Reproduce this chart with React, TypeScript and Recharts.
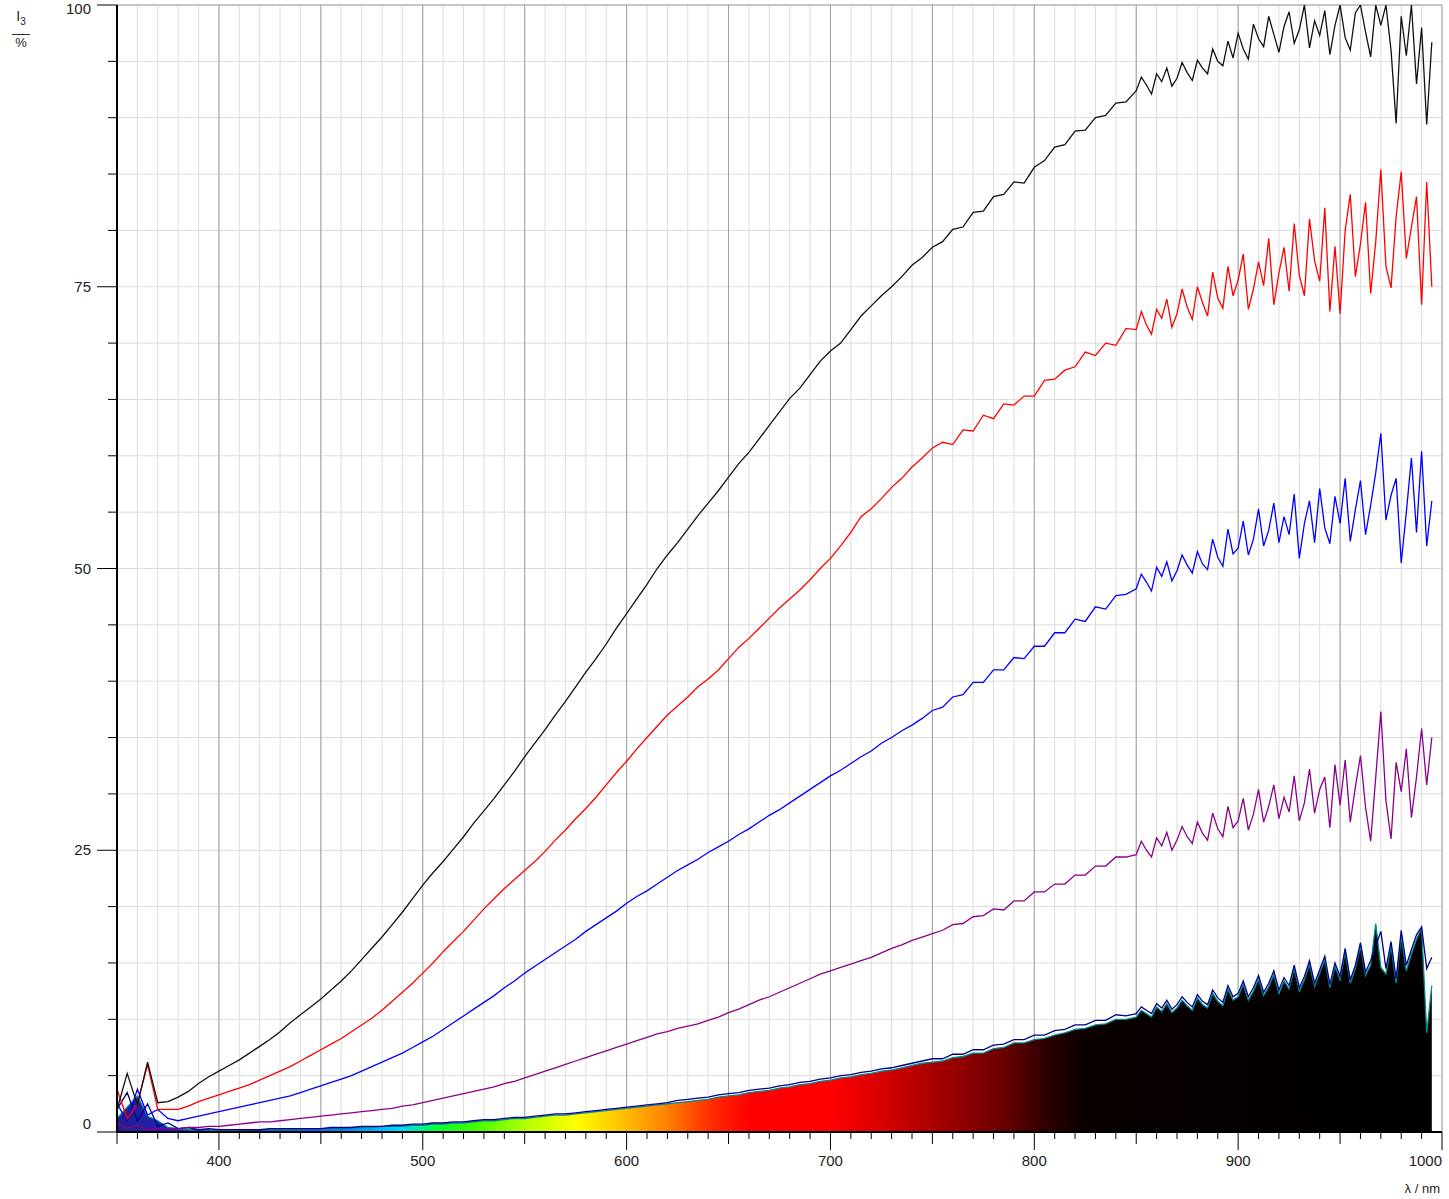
import React from 'react';
import { Area, CartesianGrid, ComposedChart, Line, XAxis, YAxis } from 'recharts';

// sampling grid, nm (finer where the signal gets noisy)
const wavelengths = [
  350, 355, 360, 365, 370, 375, 380, 385, 390, 395,
  400, 405, 410, 415, 420, 425, 430, 435, 440, 445,
  450, 455, 460, 465, 470, 475, 480, 485, 490, 495,
  500, 505, 510, 515, 520, 525, 530, 535, 540, 545,
  550, 555, 560, 565, 570, 575, 580, 585, 590, 595,
  600, 605, 610, 615, 620, 625, 630, 635, 640, 645,
  650, 655, 660, 665, 670, 675, 680, 685, 690, 695,
  700, 705, 710, 715, 720, 725, 730, 735, 740, 745,
  750, 755, 760, 765, 770, 775, 780, 785, 790, 795,
  800, 805, 810, 815, 820, 825, 830, 835, 840, 845,
  850, 852.5, 855, 857.5, 860, 862.5, 865, 867.5, 870, 872.5,
  875, 877.5, 880, 882.5, 885, 887.5, 890, 892.5, 895, 897.5,
  900, 902.5, 905, 907.5, 910, 912.5, 915, 917.5, 920, 922.5,
  925, 927.5, 930, 932.5, 935, 937.5, 940, 942.5, 945, 947.5,
  950, 952.5, 955, 957.5, 960, 962.5, 965, 967.5, 970, 972.5,
  975, 977.5, 980, 982.5, 985, 987.5, 990, 992.5, 995,
];

const seriesBlack = [
  2.0, 5.2, 2.4, 6.2, 2.6, 2.7, 3.1, 3.6, 4.3, 4.9,
  5.4, 5.9, 6.4, 7.0, 7.6, 8.2, 8.9, 9.7, 10.4, 11.1,
  11.8, 12.6, 13.4, 14.3, 15.3, 16.3, 17.3, 18.4, 19.5, 20.7,
  21.9, 23.0, 24.0, 25.1, 26.2, 27.4, 28.5, 29.6, 30.8, 32.0,
  33.3, 34.5, 35.7, 37.0, 38.2, 39.5, 40.8, 42.0, 43.3, 44.7,
  46.0, 47.3, 48.6, 50.0, 51.2, 52.3, 53.5, 54.7, 55.8, 56.9,
  58.1, 59.3, 60.3, 61.5, 62.7, 63.9, 65.1, 66.0, 67.2, 68.4,
  69.3, 70.0, 71.2, 72.4, 73.3, 74.2, 75.0, 75.9, 76.9, 77.6,
  78.5, 79.0, 80.1, 80.3, 81.6, 81.7, 83.0, 83.2, 84.3, 84.2,
  85.6, 86.2, 87.4, 87.6, 88.8, 88.9, 90.0, 90.2, 91.3, 91.4,
  92.4, 93.6, 92.9, 92.1, 93.9, 93.2, 94.4, 92.8, 93.5, 94.9,
  94.0, 93.3, 95.1, 94.4, 93.9, 96.1, 95.0, 94.6, 96.8, 95.3,
  97.5, 96.1, 95.2, 98.3, 97.0, 96.3, 99.0, 97.4, 95.8, 98.1,
  99.4, 96.6, 97.8, 100.0, 96.2, 98.6, 97.3, 99.5, 95.6, 98.2,
  100.0, 97.1, 96.0, 99.3, 100.0, 97.6, 95.4, 100.0, 98.2, 100.0,
  96.0, 89.5, 99.0, 95.5, 100.0, 93.0, 98.0, 89.4, 96.7,
];

const seriesRed = [
  3.8, 1.2, 2.5, 6.0, 2.0, 2.0, 2.0, 2.3, 2.7, 3.0,
  3.3, 3.6, 3.9, 4.2, 4.6, 5.0, 5.4, 5.8, 6.3, 6.8,
  7.3, 7.8, 8.3, 8.9, 9.5, 10.1, 10.8, 11.6, 12.4, 13.2,
  14.1, 15.0, 16.0, 16.9, 17.8, 18.8, 19.8, 20.7, 21.6, 22.4,
  23.2, 24.0, 24.9, 25.9, 26.8, 27.8, 28.7, 29.7, 30.8, 31.9,
  32.9, 34.0, 35.0, 36.0, 37.0, 37.8, 38.6, 39.5, 40.2, 41.0,
  42.0, 43.0, 43.8, 44.7, 45.6, 46.5, 47.3, 48.1, 49.0, 50.0,
  50.9, 52.0, 53.2, 54.6, 55.3, 56.2, 57.2, 58.0, 59.0, 59.8,
  60.7, 61.2, 61.0, 62.3, 62.2, 63.6, 63.3, 64.6, 64.5, 65.3,
  65.3, 66.7, 66.8, 67.6, 67.9, 69.2, 68.9, 70.0, 69.8, 71.3,
  71.2, 72.8, 71.6, 70.8, 73.0, 72.2, 73.9, 71.4, 72.6, 74.8,
  73.2, 72.1, 75.0, 73.6, 72.4, 76.3, 74.0, 73.1, 76.8, 74.2,
  75.6, 77.9, 73.0, 74.8, 77.2, 75.1, 79.3, 73.4, 76.2, 78.5,
  74.6, 80.6, 76.0, 74.2, 81.0, 77.3, 75.5, 82.0, 72.8, 78.6,
  72.6, 80.0, 83.2, 75.9, 78.8, 82.5, 74.4, 79.0, 85.4, 76.8,
  74.9, 81.2, 85.2, 77.5, 80.3, 83.0, 73.4, 84.3, 75.0,
];

const seriesBlue = [
  2.5, 1.0, 3.8, 1.5, 2.0, 1.2, 1.0, 1.2, 1.4, 1.6,
  1.8, 2.0, 2.2, 2.4, 2.6, 2.8, 3.0, 3.2, 3.5, 3.8,
  4.1, 4.4, 4.7, 5.0, 5.4, 5.8, 6.2, 6.6, 7.0, 7.5,
  8.0, 8.5, 9.1, 9.7, 10.3, 10.9, 11.5, 12.1, 12.8, 13.4,
  14.1, 14.7, 15.3, 15.9, 16.5, 17.1, 17.8, 18.4, 19.0, 19.6,
  20.3, 20.9, 21.4, 22.0, 22.6, 23.2, 23.7, 24.2, 24.8, 25.3,
  25.8, 26.4, 26.9, 27.5, 28.1, 28.6, 29.2, 29.8, 30.4, 31.0,
  31.6, 32.1, 32.7, 33.3, 33.8, 34.5, 35.0, 35.6, 36.1, 36.7,
  37.4, 37.7, 38.6, 38.8, 39.9, 39.9, 41.0, 41.0, 42.1, 42.0,
  43.1, 43.1, 44.3, 44.3, 45.5, 45.3, 46.6, 46.4, 47.6, 47.7,
  48.2, 49.5, 48.8, 48.0, 50.1, 49.3, 50.6, 48.9, 49.8, 51.2,
  50.3, 49.6, 51.5, 50.4, 49.9, 52.6, 51.0, 50.2, 53.5, 51.3,
  51.8, 54.2, 51.2, 52.6, 55.3, 52.0, 53.4, 55.8, 52.3, 54.6,
  53.0, 56.6, 50.9, 54.0, 56.0, 52.3, 57.1, 53.6, 52.2, 56.4,
  54.0, 58.0, 52.4, 55.2, 57.8, 53.0, 55.6, 58.5, 62.0, 54.3,
  56.5, 58.0, 50.5, 55.0, 59.8, 53.2, 60.4, 52.0, 56.0,
];

const seriesPurple = [
  0.8, 0.3, 0.6, 0.2, 0.3, 0.3, 0.3, 0.4, 0.4, 0.5,
  0.5, 0.6, 0.7, 0.8, 0.9, 0.9, 1.0, 1.1, 1.2, 1.3,
  1.4, 1.5, 1.6, 1.7, 1.8, 1.9, 2.0, 2.1, 2.3, 2.4,
  2.6, 2.8, 3.0, 3.2, 3.4, 3.6, 3.8, 4.0, 4.3, 4.5,
  4.8, 5.1, 5.4, 5.7, 6.0, 6.3, 6.6, 6.9, 7.2, 7.5,
  7.8, 8.1, 8.4, 8.7, 8.9, 9.2, 9.4, 9.6, 9.9, 10.2,
  10.6, 10.9, 11.3, 11.7, 12.0, 12.4, 12.8, 13.2, 13.6, 14.0,
  14.3, 14.6, 14.9, 15.2, 15.5, 15.9, 16.3, 16.6, 17.0, 17.3,
  17.6, 17.9, 18.4, 18.5, 19.1, 19.2, 19.8, 19.7, 20.5, 20.5,
  21.3, 21.3, 22.0, 22.0, 22.8, 22.8, 23.6, 23.6, 24.4, 24.4,
  24.6, 25.8, 25.0, 24.4, 26.1, 25.4, 26.6, 25.0, 25.9, 27.1,
  26.2, 25.6, 27.5, 26.5, 25.9, 28.3, 26.9, 26.2, 28.9, 27.0,
  27.6, 29.6, 26.8, 28.2, 30.4, 27.5, 28.9, 30.8, 27.8, 29.7,
  28.4, 31.6, 27.6, 29.2, 32.2, 28.3, 30.4, 31.5, 27.0, 32.6,
  29.0, 33.0, 27.5, 30.6, 33.4, 28.8, 25.8, 31.5, 37.3, 29.4,
  26.0, 32.8, 30.2, 34.0, 27.9, 31.5, 35.8, 30.8, 35.0,
];

const seriesNavy = [
  2.0, 3.5, 1.0, 2.5, 0.5, 0.8, 0.3, 0.4, 0.2, 0.3,
  0.2, 0.2, 0.2, 0.2, 0.2, 0.3, 0.3, 0.3, 0.3, 0.3,
  0.3, 0.4, 0.4, 0.4, 0.5, 0.5, 0.5, 0.6, 0.6, 0.7,
  0.7, 0.8, 0.8, 0.9, 0.9, 1.0, 1.1, 1.1, 1.2, 1.3,
  1.3, 1.4, 1.5, 1.6, 1.6, 1.7, 1.8, 1.9, 2.0, 2.1,
  2.2, 2.3, 2.4, 2.5, 2.6, 2.8, 2.9, 3.0, 3.1, 3.3,
  3.4, 3.5, 3.7, 3.8, 3.9, 4.1, 4.2, 4.4, 4.5, 4.7,
  4.8, 5.0, 5.1, 5.3, 5.4, 5.6, 5.7, 5.9, 6.1, 6.3,
  6.5, 6.5, 6.9, 6.9, 7.3, 7.3, 7.7, 7.8, 8.2, 8.2,
  8.6, 8.6, 9.0, 9.1, 9.5, 9.5, 9.9, 9.9, 10.4, 10.3,
  10.5, 11.1, 10.8, 10.5, 11.4, 11.0, 11.7, 10.9, 11.3, 12.0,
  11.5, 11.1, 12.2, 11.6, 11.3, 12.6, 11.9, 11.5, 13.0, 12.0,
  12.3, 13.4, 12.0, 12.8, 13.9, 12.4, 13.2, 14.3, 12.6, 13.7,
  13.0, 14.8, 12.8, 13.8, 15.2, 13.2, 14.4, 15.6, 13.1, 15.0,
  13.8, 16.3, 13.5, 14.8, 16.8, 14.2, 15.2, 16.5, 17.8, 14.5,
  16.9, 13.6, 17.9, 14.8, 16.2, 17.5, 18.2, 14.5, 15.5,
];

const seriesTeal = [
  1.2, 2.2, 3.2, 1.4, 1.0, 0.4, 0.3, 0.2, 0.2, 0.2,
  0.1, 0.1, 0.1, 0.2, 0.2, 0.2, 0.2, 0.2, 0.2, 0.3,
  0.3, 0.3, 0.3, 0.4, 0.4, 0.4, 0.5, 0.5, 0.5, 0.6,
  0.6, 0.7, 0.7, 0.8, 0.8, 0.9, 1.0, 1.0, 1.1, 1.2,
  1.2, 1.3, 1.4, 1.5, 1.5, 1.6, 1.7, 1.8, 1.9, 2.0,
  2.1, 2.2, 2.3, 2.4, 2.5, 2.6, 2.7, 2.8, 2.9, 3.1,
  3.2, 3.3, 3.5, 3.6, 3.7, 3.9, 4.0, 4.2, 4.3, 4.5,
  4.6, 4.8, 4.9, 5.1, 5.2, 5.4, 5.5, 5.7, 5.9, 6.1,
  6.2, 6.3, 6.6, 6.7, 7.0, 7.0, 7.4, 7.5, 7.9, 7.9,
  8.2, 8.3, 8.6, 8.8, 9.1, 9.2, 9.5, 9.6, 10.0, 10.0,
  10.2, 10.8, 10.5, 10.2, 11.1, 10.7, 11.4, 10.6, 11.0, 11.7,
  11.2, 10.8, 11.9, 11.3, 11.0, 12.3, 11.6, 11.2, 12.7, 11.7,
  12.0, 13.1, 11.7, 12.5, 13.6, 12.1, 12.9, 14.0, 12.3, 13.4,
  12.7, 14.5, 12.5, 13.5, 14.9, 12.9, 14.1, 15.3, 12.8, 14.7,
  13.5, 16.0, 13.2, 14.5, 16.5, 13.9, 14.8, 18.5, 14.6, 14.0,
  16.5, 13.2, 17.4, 14.3, 15.8, 17.1, 18.1, 8.8, 13.0,
];

const xTicks = [
  350, 360, 370, 380, 390, 400, 410, 420, 430, 440, 450, 460, 470, 480, 490,
  500, 510, 520, 530, 540, 550, 560, 570, 580, 590, 600, 610, 620, 630, 640,
  650, 660, 670, 680, 690, 700, 710, 720, 730, 740, 750, 760, 770, 780, 790,
  800, 810, 820, 830, 840, 850, 860, 870, 880, 890, 900, 910, 920, 930, 940,
  950, 960, 970, 980, 990, 1000,
];
const xMajorGrid = [400, 450, 500, 550, 600, 650, 700, 750, 800, 850, 900, 950, 1000];
const yTicks = [0, 5, 10, 15, 20, 25, 30, 35, 40, 45, 50, 55, 60, 65, 70, 75, 80, 85, 90, 95, 100];
const yMajorGrid = [25, 50, 75, 100];

// colour of the spectrum fill under the lowest curve
const spectrumNm = [350, 420, 465, 490, 505, 525, 550, 575, 595, 620, 640, 660, 700, 725, 755, 785, 805, 825, 995];
const spectrumColors = [
  '#20208a', '#2020ff', '#0090ff', '#00d8ff', '#00ff40', '#40ff00', '#b0ff00', '#ffff00', '#ffc800',
  '#ff8000', '#ff3000', '#ff0000', '#ff0000', '#d80000', '#a00000', '#680000', '#300000', '#0a0000', '#000000',
];

const font = '"Liberation Sans", Arial, sans-serif';

const chartData = wavelengths.map((nm, i) => ({
  nm,
  black: seriesBlack[i],
  red: seriesRed[i],
  blue: seriesBlue[i],
  purple: seriesPurple[i],
  navy: seriesNavy[i],
  teal: seriesTeal[i],
}));

function XTick(props: any) {
  const { x, y, payload } = props;
  const v = payload.value as number;
  const len = v % 100 === 0 ? 18 : v % 50 === 0 ? 12 : 7;
  return (
    <g>
      <line x1={x} y1={y} x2={x} y2={y + len} stroke="#000" strokeWidth={1} />
      {v % 100 === 0 && (
        <text
          x={x}
          y={y + 34}
          textAnchor={v === 1000 ? 'end' : 'middle'}
          fontFamily={font}
          fontSize={15}
          fill="#222"
        >
          {v}
        </text>
      )}
    </g>
  );
}

function YTick(props: any) {
  const { x, y, payload } = props;
  const v = payload.value as number;
  const major = v % 25 === 0;
  const shift = v === 0 ? -8 : v === 100 ? 4 : 0;
  return (
    <g>
      <line x1={x - (major ? 20 : 9)} y1={y} x2={x} y2={y} stroke="#000" strokeWidth={1} />
      {major && (
        <text x={x - 26} y={y + 5 + shift} textAnchor="end" fontFamily={font} fontSize={15} fill="#222">
          {v}
        </text>
      )}
    </g>
  );
}

export default function App() {
  const first = wavelengths[0];
  const last = wavelengths[wavelengths.length - 1];

  return (
    <div style={{ position: 'absolute', left: 0, top: 0, width: 1449, height: 1199, background: '#fff' }}>
      <ComposedChart
        width={1449}
        height={1199}
        data={chartData}
        margin={{ top: 5, right: 7, bottom: 0, left: 0 }}
      >
        <defs>
          <linearGradient id="spectrum" x1="0" y1="0" x2="1" y2="0">
            {spectrumNm.map((nm, i) => (
              <stop key={nm} offset={(nm - first) / (last - first)} stopColor={spectrumColors[i]} />
            ))}
          </linearGradient>
        </defs>

        <XAxis
          xAxisId="x"
          dataKey="nm"
          type="number"
          domain={[350, 1000]}
          ticks={xTicks}
          interval={0}
          tickSize={0}
          tickMargin={0}
          tick={XTick}
          axisLine={{ stroke: '#000', strokeWidth: 2 }}
          height={67}
        />
        <XAxis xAxisId="xMajor" dataKey="nm" type="number" domain={[350, 1000]} ticks={xMajorGrid} hide />
        <YAxis
          yAxisId="y"
          type="number"
          domain={[0, 100]}
          ticks={yTicks}
          interval={0}
          tickSize={0}
          tickMargin={0}
          tick={YTick}
          axisLine={{ stroke: '#000', strokeWidth: 2 }}
          width={117}
          allowDataOverflow
        />
        <YAxis yAxisId="yMajor" type="number" domain={[0, 100]} ticks={yMajorGrid} hide />

        <CartesianGrid xAxisId="x" yAxisId="y" stroke="#dcdcdc" strokeWidth={1} />
        <CartesianGrid xAxisId="xMajor" yAxisId="yMajor" stroke="#a0a0a0" strokeWidth={1} />

        <Area
          xAxisId="x"
          yAxisId="y"
          type="linear"
          dataKey="teal"
          stroke="none"
          fill="url(#spectrum)"
          fillOpacity={1}
          isAnimationActive={false}
        />
        <Line xAxisId="x" yAxisId="y" type="linear" dataKey="teal" stroke="#008b8b" strokeWidth={1.3} dot={false} isAnimationActive={false} />
        <Line xAxisId="x" yAxisId="y" type="linear" dataKey="navy" stroke="#00008b" strokeWidth={1.3} dot={false} isAnimationActive={false} />
        <Line xAxisId="x" yAxisId="y" type="linear" dataKey="purple" stroke="#8b008b" strokeWidth={1.3} dot={false} isAnimationActive={false} />
        <Line xAxisId="x" yAxisId="y" type="linear" dataKey="blue" stroke="#0000ff" strokeWidth={1.3} dot={false} isAnimationActive={false} />
        <Line xAxisId="x" yAxisId="y" type="linear" dataKey="red" stroke="#ff0000" strokeWidth={1.3} dot={false} isAnimationActive={false} />
        <Line xAxisId="x" yAxisId="y" type="linear" dataKey="black" stroke="#111" strokeWidth={1.3} dot={false} isAnimationActive={false} />
      </ComposedChart>

      <div style={{ position: 'absolute', left: 12, top: 4, width: 18, fontFamily: font, color: '#222', textAlign: 'center' }}>
        <div style={{ fontSize: 14, lineHeight: '24px', borderBottom: '1px solid #333' }}>
          I<sub style={{ fontSize: 10 }}>3</sub>
        </div>
        <div style={{ fontSize: 13, lineHeight: '16px' }}>%</div>
      </div>
      <div style={{ position: 'absolute', right: 9, top: 1181, fontFamily: font, fontSize: 13, color: '#222' }}>
        λ / nm
      </div>
    </div>
  );
}
